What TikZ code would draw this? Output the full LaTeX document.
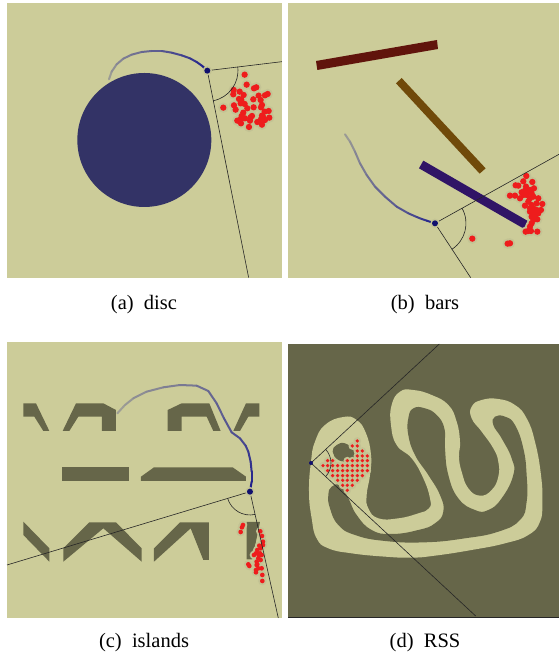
\documentclass[tikz,border=0pt]{standalone}
\usepackage{fontspec}
\setmainfont{Liberation Serif}
\definecolor{cream}{HTML}{CCCC99}
\definecolor{olive}{HTML}{666649}
\definecolor{discblue}{HTML}{333366}
\definecolor{barred}{HTML}{60140C}
\definecolor{barbrown}{HTML}{704A0A}
\definecolor{barpurple}{HTML}{301466}
\definecolor{navy}{HTML}{10106E}
\definecolor{tracecol}{HTML}{20208C}
\definecolor{sample}{HTML}{EE1C1C}
\definecolor{halo}{HTML}{C3C394}
\tikzset{
  panel/.style={fill=cream},
  sight/.style={draw=black!85, line width=0.6pt},
  trace/.style={line width=2pt, line cap=round},
  caption/.style={font=\fontsize{20.5}{24}\selectfont, inner sep=0pt},
}
% samples: halo first, then the red dot; #1 = radius, #2 = list
\newcommand{\samples}[2]{
  \foreach \x/\y in {#2} \fill[halo] (\x,\y) circle (#1+6);
  \foreach \x/\y in {#2} \fill[sample] (\x,\y) circle (#1);
}
% robot with its two sight lines and the arc; #1 = name, #2 = start, #3 = end, #4 = radius
\newcommand{\robot}[4]{
  \draw[sight] (#1) -- (#1L);
  \draw[sight] (#1) -- (#1R);
  \draw[sight] (#1) ++(#2:#4) arc[start angle=#2, end angle=#3, radius=#4];
  \fill[halo] (#1) circle (14);
  \fill[navy] (#1) circle (9);
}
% trace fading in; #1 = number of points, #2 = list
\newcommand{\fadetrace}[2]{
  \foreach \x/\y [count=\i] in {#2} {
    \coordinate (p\i) at (\x,\y);
    \ifnum\i>1
      \pgfmathtruncatemacro\j{\i-1}
      \pgfmathtruncatemacro\p{18+82*\i/#1}
      \draw[trace, tracecol!\p!cream] (p\j) -- (p\i);
    \fi
  }
}

\begin{document}
\begin{tikzpicture}[x=1pt, y=-1pt]
\useasboundingbox (0,0) rectangle (559,653);

% (a) disc
\begin{scope}[scale=0.3333]
\fill[panel] (21,10) rectangle (846,833);
\fill[discblue] (433,420) circle (201);
\coordinate (robA) at (622,212);
\coordinate (robAL) at (846,185);
\coordinate (robAR) at (746,833);
\fadetrace{14}{327/238, 335/215, 350/193, 370/176, 395/164, 425/156, 455/153, 485/153, 515/158, 545/166, 570/175, 590/186, 607/198, 622/212}
\samples{9.5}{734/224, 740/254, 762/265, 769/262, 701/270, 700/283, 719/275, 731/285, 717/297, 724/300, 722/310, 734/312, 742/325, 760/298, 776/287, 795/286, 803/282, 782/300, 786/315, 783/322, 761/322, 702/316, 707/329, 670/323, 794/335, 806/333, 730/338, 725/348, 712/362, 722/358, 735/355, 723/370, 752/352, 756/348, 750/362, 786/347, 790/352, 808/353, 783/358, 795/360, 772/366, 786/374, 747/381}
\robot{robA}{-7}{79}{92}
\end{scope}
\node[caption] (capA) at (144,304.5) {(a)\ \ disc};

% (b) bars
\begin{scope}[shift={(285,0)}, scale=0.3333]
\fill[panel] (9,10) rectangle (822,833);
\fill[barred] (93,183) -- (456,120) -- (459,147) -- (97,210) -- cycle;
\fill[barbrown] (350,234) -- (602,505) -- (584,521) -- (333,250) -- cycle;
\fill[barpurple] (415,482) -- (732,665) -- (720,688) -- (402,505) -- cycle;
\coordinate (robB) at (450,670);
\coordinate (robBL) at (822,463);
\coordinate (robBR) at (557,833);
\fadetrace{14}{180/403, 195/425, 210/455, 225/490, 245/525, 270/560, 300/590, 335/620, 370/640, 395/651, 410/657, 425/662, 440/667, 450/670}
\samples{9.5}{724/528, 715/544, 742/546, 692/556, 700/557, 723/560, 747/565, 735/570, 720/572, 710/577, 740/580, 725/585, 675/587, 690/587, 705/595, 735/595, 745/590, 760/595, 772/612, 755/610, 720/617, 740/615, 745/625, 755/630, 768/630, 735/635, 745/640, 760/640, 740/650, 757/658, 745/660, 740/670, 735/680, 730/693, 738/693, 722/695, 757/695, 562/716, 668/731, 675/730, 730/605, 750/650, 735/625, 715/585, 730/575}
\robot{robB}{-29}{57}{93}
\end{scope}
\node[caption] (capB) at (425,304.5) {(b)\ \ bars};

% (c) islands
\begin{scope}[shift={(0,335)}, scale=0.3333]
\fill[panel] (21,21) rectangle (846,849);
\fill[olive] (70,205) -- (108,205) -- (148,288) -- (130,288) -- (103,245) -- (70,245) -- cycle;
\fill[olive] (188,288) -- (228,205) -- (310,205) -- (348,225) -- (348,288) -- (306,288) -- (306,245) -- (235,245) -- (208,288) -- cycle;
\fill[olive] (503,225) -- (545,205) -- (628,205) -- (662,288) -- (640,288) -- (620,245) -- (545,245) -- (545,288) -- (503,288) -- cycle;
\fill[olive] (700,288) -- (738,205) -- (778,205) -- (778,245) -- (745,245) -- (720,288) -- cycle;
\fill[olive] (185,397) rectangle (387,438);
\fill[olive] (423,425) -- (462,397) -- (698,397) -- (738,425) -- (738,438) -- (423,438) -- cycle;
\fill[olive] (70,560) -- (148,640) -- (148,680) -- (70,600) -- cycle;
\fill[olive] (190,640) -- (268,562) -- (348,562) -- (425,640) -- (425,680) -- (310,580) -- (190,680) -- cycle;
\fill[olive] (462,640) -- (540,562) -- (627,562) -- (627,675) -- (610,675) -- (572,580) -- (462,680) -- cycle;
\fill[olive] (740,561) -- (780,561) -- (757,673) -- (740,673) -- cycle;
\coordinate (robC) at (750,470);
\coordinate (robCL) at (21,690);
\coordinate (robCR) at (835,849);
\fadetrace{18}{352/235, 375/210, 400/190, 440/170, 490/157, 540/150, 590/152, 625/168, 650/205, 672/250, 695/292, 720/310, 737/332, 745/350, 752/380, 755/410, 755/440, 750/470}
\samples{7}{729/570, 726/577, 722/591, 781/589, 786/603, 789/620, 789/630, 778/632, 782/640, 772/645, 768/655, 762/660, 780/655, 785/660, 775/670, 782/675, 770/680, 745/688, 748/693, 770/690, 775/700, 768/705, 785/700, 768/712, 787/720, 787/738, 777/662, 772/688}
\robot{robC}{163}{77}{70}
\end{scope}
\node[caption] (capC) at (144,642.5) {(c)\ \ islands};

% (d) RSS
\begin{scope}[shift={(285,335)}, scale=0.3333]
\fill[olive] (9,27) rectangle (822,847);
\draw[black!85, line width=0.8pt] (9,847) -- (822,847);
\fill[cream] plot[smooth cycle, tension=0.8] coordinates {(72,470) (78,380) (90,320) (120,270) (175,246) (215,255) (243,295) (258,360) (255,420) (245,480) (250,520) (280,550) (340,550) (400,535) (432,520) (435,490) (415,430) (380,370) (335,330) (318,270) (320,210) (345,170) (385,165) (440,180) (490,210) (515,260) (525,320) (522,365) (530,410) (550,460) (585,482) (620,465) (640,425) (640,380) (625,340) (590,290) (560,250) (560,215) (590,195) (640,192) (690,210) (725,250) (750,320) (768,420) (772,500) (765,560) (730,600) (660,625) (560,645) (450,662) (380,668) (300,665) (200,655) (130,640) (95,610) (80,550)};
\fill[olive] plot[smooth cycle, tension=0.8] coordinates {(130,480) (140,455) (165,452) (190,490) (215,540) (260,585) (320,597) (400,585) (450,565) (475,530) (465,480) (430,420) (390,360) (370,300) (370,250) (385,220) (420,220) (455,240) (478,280) (480,340) (490,420) (520,490) (570,525) (610,525) (650,490) (685,420) (680,370) (650,310) (625,270) (630,245) (660,245) (690,270) (715,340) (725,420) (725,500) (705,555) (640,590) (540,610) (420,622) (300,618) (210,600) (160,570) (135,520)};
\fill[olive] plot[smooth cycle, tension=0.8] coordinates {(143,350) (155,330) (180,325) (205,345) (208,365) (190,378) (160,375)};
\coordinate (robD) at (78,384);
\coordinate (robDL) at (463,27);
\coordinate (robDR) at (572,843);
\samples{5.5}{217/318, 202/333, 217/333, 217/348, 232/348, 217/363, 232/363, 247/363, 128/377, 143/377, 187/377, 202/377, 217/377, 232/377, 247/377, 114/392, 128/392, 143/392, 158/392, 173/392, 187/392, 202/392, 217/392, 232/392, 247/392, 128/407, 143/407, 158/407, 173/407, 187/407, 202/407, 217/407, 232/407, 247/407, 143/422, 158/422, 173/422, 187/422, 202/422, 217/422, 232/422, 158/436, 173/436, 187/436, 202/436, 217/436, 173/451, 187/451, 202/451, 187/466}
\draw[sight] (robD) -- (robDL);
\draw[sight] (robD) -- (robDR);
\draw[sight] (robD) ++(-43:60) arc[start angle=-43, end angle=43, radius=60];
\fill[navy] (robD) circle (6);
\end{scope}
\node[caption] (capD) at (425,642.5) {(d)\ \ RSS};
\end{tikzpicture}
\end{document}
